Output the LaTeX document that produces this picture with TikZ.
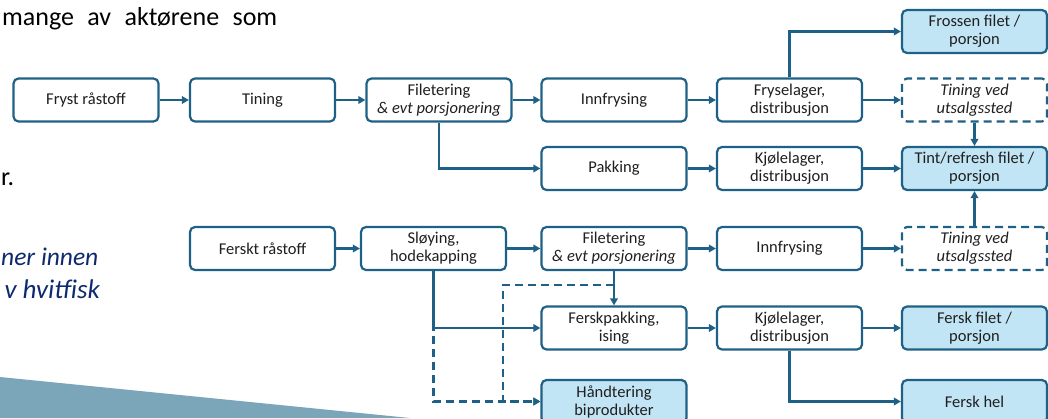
\documentclass[tikz,border=0pt]{standalone}
\usepackage{fontspec}
\setmainfont{Carlito}
\usetikzlibrary{arrows.meta}

\definecolor{blu}{HTML}{1F6186}
\definecolor{celeste}{HTML}{C2E5F5}
\definecolor{navy}{HTML}{0E2A6E}
\definecolor{sfondo}{HTML}{7BA5B9}

\tikzset{
  boks/.style={draw=blu, line width=2.2pt, rounded corners=5pt,
    minimum width=145pt, minimum height=43pt, inner sep=2pt,
    align=center, text=black!88, font=\fontsize{16.5}{18}\selectfont},
  fylt/.style={boks, fill=celeste},
  stiplet/.style={boks, dash pattern=on 8pt off 5pt},
  pil/.style={draw=blu, line width=2.2pt, -{Triangle[length=7pt,width=7.5pt]}},
  stiplpil/.style={pil, dash pattern=on 8pt off 5pt},
}

\begin{document}
\begin{tikzpicture}[x=1pt, y=-1pt]
    % cornice
    \useasboundingbox (0,0) rectangle (1048,418);
    \clip (0,0) rectangle (1048,418);
    \fill[white] (0,0) rectangle (1048,418);

    % parametri
    \def\cA{86}
    \def\cB{262.5}
    \def\cC{439}
    \def\cD{614}
    \def\cE{789.5}
    \def\cF{974.5}

    % testo della diapositiva
    \node[anchor=base west, inner sep=0, font=\fontsize{26}{30}\selectfont] (riga1) at (2,25)
        {\makebox[275pt][s]{mange av aktørene som}};
    \node[anchor=base west, inner sep=0, font=\fontsize{26}{30}\selectfont] (riga2) at (1,185) {r.};
    \node[anchor=base west, inner sep=0, text=navy, font=\fontsize{25.5}{30}\selectfont\itshape] (riga3) at (1,265) {ner innen};
    \node[anchor=base east, inner sep=0, text=navy, font=\fontsize{27}{30}\selectfont\itshape] (riga4) at (100,298) {v hvitfisk};
    \fill[sfondo] (0,377) -- (410,418) -- (0,418) -- cycle;

    % fila fryst
    \node[boks] (fryst) at (\cA,100) {Fryst råstoff};
    \node[boks] (tining) at (\cB,100) {Tining};
    \node[boks] (filetA) at (\cC,100) {Filetering\\\textit{\& evt porsjonering}};
    \node[boks] (innfrysA) at (\cD,100) {Innfrysing};
    \node[boks] (fryselager) at (\cE,100) {Fryselager,\\distribusjon};
    \node[fylt] (frossen) at (\cF,31.5) {Frossen filet /\\porsjon};
    \node[stiplet] (tiningvA) at (\cF,100) {\textit{Tining ved}\\\textit{utsalgssted}};

    % fila pakking
    \node[boks] (pakking) at (\cD,168.5) {Pakking};
    \node[boks] (kjolA) at (\cE,168.5) {Kjølelager,\\distribusjon};
    \node[fylt] (tint) at (\cF,168.5) {Tint/refresh filet /\\porsjon};

    % fila fersk
    \node[boks] (fersk) at (\cB,248.5) {Ferskt råstoff};
    \node[boks] (sloying) at (433.5,248.5) {Sløying,\\hodekapping};
    \node[boks] (filetB) at (\cD,248.5) {Filetering\\\textit{\& evt porsjonering}};
    \node[boks] (innfrysB) at (\cE,248.5) {Innfrysing};
    \node[stiplet] (tiningvB) at (\cF,248.5) {\textit{Tining ved}\\\textit{utsalgssted}};

    % fila ferskpakking
    \node[boks] (ferskpakk) at (\cD,328) {Ferskpakking,\\ising};
    \node[boks] (kjolB) at (\cE,328) {Kjølelager,\\distribusjon};
    \node[fylt] (ferskfilet) at (\cF,328) {Fersk filet /\\porsjon};

    % ultima fila
    \node[fylt] (bipro) at (\cD,401.5) {Håndtering\\biprodukter};
    \node[fylt] (ferskhel) at (\cF,401.5) {Fersk hel};

    % frecce fila fryst
    \draw[pil] (fryst) -- (tining);
    \draw[pil] (tining) -- (filetA);
    \draw[pil] (filetA) -- (innfrysA);
    \draw[pil] (innfrysA) -- (fryselager);
    \draw[pil] (fryselager) -- (tiningvA);
    \draw[pil] (fryselager.north) |- (frossen);
    \draw[pil] (filetA.south) |- (pakking);
    \draw[pil] (tiningvA) -- (tint);

    % frecce fila pakking
    \draw[pil] (pakking) -- (kjolA);
    \draw[pil] (kjolA) -- (tint);

    % frecce fila fersk
    \draw[pil] (fersk) -- (sloying);
    \draw[pil] (sloying) -- (filetB);
    \draw[pil] (filetB) -- (innfrysB);
    \draw[pil] (innfrysB) -- (tiningvB);
    \draw[pil] (tiningvB) -- (tint);

    % biprodotti, tratteggiato
    \coordinate (knekk) at (503,285);
    \draw[stiplpil] (sloying.south) |- (bipro);
    \draw[stiplpil] (filetB.south |- knekk) -- (knekk) |- (bipro);

    % frecce fila ferskpakking
    \draw[pil] (filetB) -- (ferskpakk);
    \draw[pil] (sloying.south) |- (ferskpakk);
    \draw[pil] (ferskpakk) -- (kjolB);
    \draw[pil] (kjolB) -- (ferskfilet);
    \draw[pil] (kjolB.south) |- (ferskhel);
\end{tikzpicture}
\end{document}
